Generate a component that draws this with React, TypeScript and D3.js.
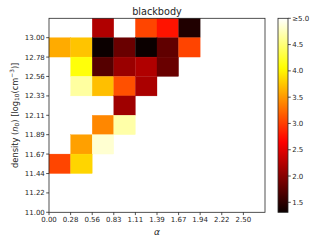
import * as d3 from "d3";

// bin edges (alpha along x, log10 density along y)
const alphaEdges = [0, 0.278, 0.556, 0.833, 1.111, 1.389, 1.667, 1.944, 2.222, 2.5, 2.778];
const densityEdges = [11.0, 11.222, 11.444, 11.667, 11.889, 12.111, 12.333, 12.556, 12.778, 13.0, 13.222];
const colorbarTicks = [1.5, 2.0, 2.5, 3.0, 3.5, 4.0, 4.5, 5.0];

// one row per density bin, top row (13.00–13.22) first; null = no data
const cellValues: (number | null)[][] = [
  [null, null, 2.22, null, 3.04, 2.76, 1.43, null, null, null],
  [3.6, 3.74, 1.3, 1.83, 1.31, 1.78, 3.03, null, null, null],
  [null, 4.1, 1.72, 2.1, 2.22, 1.83, null, null, null, null],
  [null, 4.65, 3.71, 3.1, 2.19, null, null, null, null, null],
  [null, null, null, 2.13, null, null, null, null, null, null],
  [null, null, 3.4, 4.68, null, null, null, null, null, null],
  [null, 3.54, 4.83, null, null, null, null, null, null, null],
  [3.04, 3.83, null, null, null, null, null, null, null, null],
  [null, null, null, null, null, null, null, null, null, null],
  [null, null, null, null, null, null, null, null, null, null],
];

const vmin = 1.31;
const vmax = 5.0;

// matplotlib "hot"
const hot = (t: number) => {
  t = Math.max(0, Math.min(1, t));
  const r = t < 0.365079 ? 0.0416 + (1 - 0.0416) * (t / 0.365079) : 1;
  const g = t < 0.365079 ? 0 : t < 0.746032 ? (t - 0.365079) / (0.746032 - 0.365079) : 1;
  const b = t < 0.746032 ? 0 : (t - 0.746032) / (1 - 0.746032);
  return d3.rgb(r * 255, g * 255, b * 255).formatHex();
};

const W = 327;
const H = 245;
const m = { left: 49, right: 265, top: 18.3, bottom: 212.3 };
const cb = { x: 278, w: 10 };
const font = "DejaVu Sans, sans-serif";
const axisColor = "#262626";

export default function App() {
  const x = d3.scaleLinear().domain([alphaEdges[0], alphaEdges[alphaEdges.length - 1]]).range([m.left, m.right]);
  const y = d3.scaleLinear().domain([densityEdges[0], densityEdges[densityEdges.length - 1]]).range([m.bottom, m.top]);
  const cbScale = d3.scaleLinear().domain([vmin, vmax]).range([m.bottom, m.top]);
  const norm = d3.scaleLinear().domain([vmin, vmax]).range([0, 1]).clamp(true);
  const nRows = cellValues.length;

  const stops = d3.range(0, 1.0001, 0.02);

  return (
    <svg
      width={W}
      height={H}
      viewBox={`0 0 ${W} ${H}`}
      style={{ position: "fixed", left: 0, top: 0, background: "#fff" }}
      fontFamily={font}
    >
      <defs>
        <linearGradient id="hotGrad" x1="0" y1="1" x2="0" y2="0">
          {stops.map((s) => (
            <stop key={s} offset={`${s * 100}%`} stopColor={hot(s)} />
          ))}
        </linearGradient>
      </defs>

      {/* cells */}
      {cellValues.map((row, ri) =>
        row.map((v, ci) => {
          if (v === null) return null;
          const bi = nRows - 1 - ri;
          const x0 = x(alphaEdges[ci]);
          const x1 = x(alphaEdges[ci + 1]);
          const y0 = y(densityEdges[bi + 1]);
          const y1 = y(densityEdges[bi]);
          const c = hot(norm(v));
          return (
            <rect
              key={`${ri}-${ci}`}
              x={x0}
              y={y0}
              width={x1 - x0}
              height={y1 - y0}
              fill={c}
              stroke={c}
              strokeWidth={0.3}
            />
          );
        })
      )}

      {/* axes frame */}
      <rect
        x={m.left}
        y={m.top}
        width={m.right - m.left}
        height={m.bottom - m.top}
        fill="none"
        stroke={axisColor}
        strokeWidth={0.8}
      />

      {/* x ticks */}
      {alphaEdges.slice(0, -1).map((a) => (
        <g key={`x${a}`}>
          <line x1={x(a)} x2={x(a)} y1={m.bottom} y2={m.bottom + 2.8} stroke={axisColor} strokeWidth={0.8} />
          <text x={x(a)} y={m.bottom + 9.3} fontSize={7} textAnchor="middle" fill={axisColor}>
            {d3.format(".2f")(a)}
          </text>
        </g>
      ))}

      {/* y ticks */}
      {densityEdges.slice(0, -1).map((d) => (
        <g key={`y${d}`}>
          <line x1={m.left - 2.8} x2={m.left} y1={y(d)} y2={y(d)} stroke={axisColor} strokeWidth={0.8} />
          <text x={m.left - 4.2} y={y(d) + 2.5} fontSize={7} textAnchor="end" fill={axisColor}>
            {d3.format(".2f")(d)}
          </text>
        </g>
      ))}

      {/* title */}
      <text x={(m.left + m.right) / 2} y={14.5} fontSize={9.7} textAnchor="middle" fill={axisColor}>
        blackbody
      </text>

      {/* x label */}
      <text x={(m.left + m.right) / 2} y={235} fontSize={9} fontStyle="italic" textAnchor="middle" fill={axisColor}>
        α
      </text>

      {/* y label */}
      <text
        transform={`translate(17.5,${(m.top + m.bottom) / 2}) rotate(-90)`}
        fontSize={8.3}
        textAnchor="middle"
        fill={axisColor}
      >
        density (<tspan fontStyle="italic">n</tspan>
        <tspan fontSize={5.8} dy={1.8}>0</tspan>
        <tspan dy={-1.8}>) [log</tspan>
        <tspan fontSize={5.8} dy={1.8}>10</tspan>
        <tspan dy={-1.8}>(cm</tspan>
        <tspan fontSize={5.8} dy={-3.2}>−3</tspan>
        <tspan dy={3.2}>)]</tspan>
      </text>

      {/* colorbar */}
      <rect x={cb.x} y={m.top} width={cb.w} height={m.bottom - m.top} fill="url(#hotGrad)" />
      <rect
        x={cb.x}
        y={m.top}
        width={cb.w}
        height={m.bottom - m.top}
        fill="none"
        stroke={axisColor}
        strokeWidth={0.8}
      />
      {colorbarTicks.map((t) => (
        <g key={`c${t}`}>
          <line
            x1={cb.x + cb.w}
            x2={cb.x + cb.w + 2.8}
            y1={cbScale(t)}
            y2={cbScale(t)}
            stroke={axisColor}
            strokeWidth={0.8}
          />
          <text x={cb.x + cb.w + 4.2} y={cbScale(t) + 2.5} fontSize={7} fill={axisColor}>
            {t === vmax ? "≥" : ""}
            {d3.format(".1f")(t)}
          </text>
        </g>
      ))}
    </svg>
  );
}
